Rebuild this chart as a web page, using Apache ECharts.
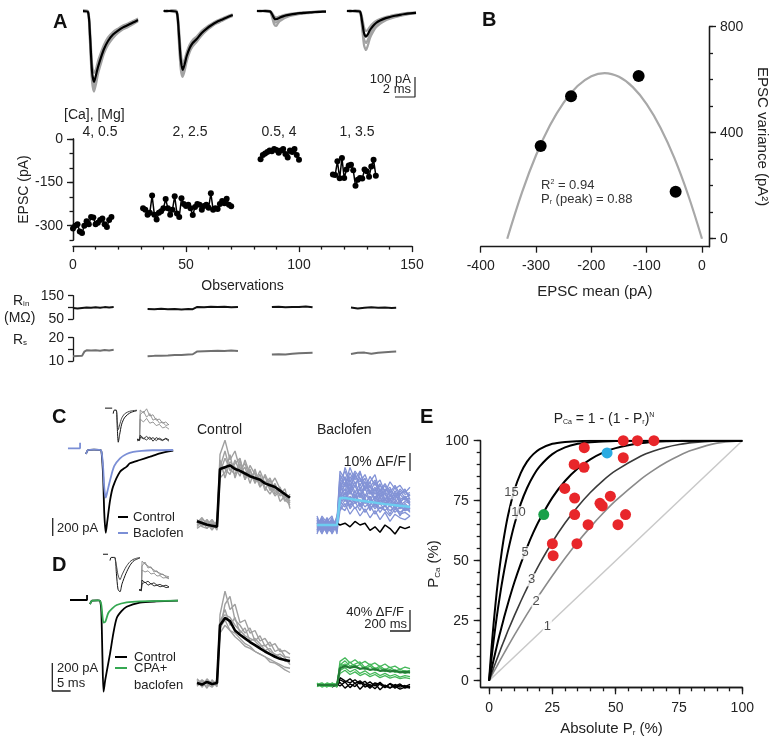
<!DOCTYPE html>
<html><head><meta charset="utf-8">
<script src="https://cdn.jsdelivr.net/npm/echarts@6/dist/echarts.min.js"></script>
<style>html,body{margin:0;padding:0;background:#fff}#c{width:779px;height:745px}</style>
</head><body><div id="c"></div>
<script>
// ---------------- DATA ----------------
// Panel A: averaged EPSC traces (pA) vs time (ms, onset = 0)
const tA = [-1.3,-1.0,-0.5,0,0.2,0.4,0.6,0.8,1.0,1.3,1.6,2.0,2.5,3.0,3.5,4.0,4.5,5.0,5.6];
const tr1Mean = [null,null,0,-5,-120,-300,-355,-320,-280,-232,-190,-150,-118,-98,-82,-70,-58,-45,null];
const tr1Lo   = [null,null,-5,-10,-160,-350,-403,-365,-315,-262,-212,-170,-135,-110,-92,-80,-66,-52,null];
const tr1Mid  = [null,null,0,-3,-140,-330,-380,-342,-298,-247,-200,-160,-126,-104,-88,-75,-62,-48,null];
const tr1Hi   = [null,null,5,0,-90,-260,-310,-290,-250,-207,-168,-132,-105,-88,-73,-62,-50,-38,null];
const tr2Mean = [0,0,0,-5,-100,-240,-295,-265,-225,-185,-160,-140,-110,-88,-70,-55,-44,-32,-20];
const tr2Lo   = [-4,3,-4,-10,-140,-290,-330,-298,-252,-205,-177,-154,-122,-97,-78,-62,-50,-37,-25];
const tr2Mid  = [2,-2,2,-6,-120,-265,-312,-280,-238,-195,-168,-147,-116,-93,-74,-58,-47,-35,-22];
const tr2Hi   = [4,-3,4,0,-70,-200,-265,-240,-205,-168,-145,-127,-99,-79,-63,-49,-38,-27,-16];
const tr3Mean = [0,0,0,-2,-15,-35,-42,-38,-33,-27,-22,-18,-14,-11,-9,-7,-5,-4,-3];
const tr3Lo   = [-3,2,-3,-5,-30,-65,-75,-62,-50,-40,-32,-25,-19,-15,-12,-9,-7,-5,-4];
const tr3Mid  = [1,-1,1,-3,-22,-50,-58,-50,-41,-33,-27,-21,-17,-13,-10,-8,-6,-4,-3];
const tr3Hi   = [3,-2,3,0,-8,-25,-32,-30,-27,-22,-18,-14,-11,-8,-6,-5,-3,-2,-1];
const tr4Mean = [0,0,0,-3,-50,-110,-128,-115,-95,-75,-60,-48,-37,-30,-24,-19,-15,-12,-9];
const tr4Lo   = [-3,3,-4,-8,-80,-170,-195,-170,-135,-105,-82,-64,-49,-39,-31,-25,-20,-15,-11];
const tr4Mid  = [1,-2,1,-5,-65,-140,-160,-142,-115,-90,-71,-56,-43,-34,-27,-22,-17,-13,-10];
const tr4Hi   = [3,-3,3,0,-30,-80,-100,-92,-78,-62,-50,-40,-31,-25,-19,-15,-11,-9,-6];

// Panel A: EPSC amplitude per observation
const condLabels = ['4, 0.5','2, 2.5','0.5, 4','1, 3.5'];
const obsStart = [0,31,83,115];
const epsc1 = [-310,-300,-295,-320,-325,-300,-285,-295,-270,-272,-295,-290,-280,-275,-295,-305,-280,-270];
const epsc2 = [-240,-245,-262,-255,-196,-262,-279,-255,-250,-240,-208,-240,-262,-245,-198,-258,-270,-205,-225,-232,-228,-240,-263,-235,-225,-228,-245,-232,-228,-238,-188,-245,-240,-242,-225,-215,-222,-207,-228,-233];
const epsc3 = [-70,-55,-50,-45,-40,-42,-35,-38,-48,-40,-35,-52,-64,-40,-45,-35,-55,-72];
const epsc4 = [-123,-125,-77,-136,-66,-135,-106,-92,-89,-108,-162,-141,-135,-137,-106,-112,-131,-95,-72,-127];
const aYLabels = [0,-150,-300];

// Rin / Rs
const rX1 = [0,2,4,5,6,8,10,12,14,16,18];
const rin1 = [97,95,97,98,99,98,100,98,101,99,101];
const rs1  = [12.0,12.1,12.2,14.0,14.6,14.5,14.6,14.4,14.7,14.5,14.8];
const rX2 = [33,36,39,42,45,48,51,53,55,58,61,64,67,70,73];
const rin2 = [93,92,94,92,93,91,93,92,102,100,103,101,103,100,102];
const rs2  = [12.0,12.2,12.3,12.4,12.6,12.6,12.8,12.9,14.1,14.2,14.3,14.4,14.3,14.5,14.3];
const rX3 = [88,91,94,97,100,103,106];
const rin3 = [101,103,100,102,101,104,100];
const rs3  = [12.8,12.9,12.8,13.1,13.3,13.4,13.5];
const rX4 = [123,126,129,132,135,138,141,143];
const rin4 = [99,95,98,100,98,99,97,98];
const rs4  = [13.0,13.5,13.6,13.1,13.5,13.8,14.0,14.1];

// Panel B: variance-mean
const bMean = [-291.6,-236.7,-114.5,-47.6];
const bVar  = [350,538,614,177];
const bFitX = [-352,-325,-300,-275,-250,-225,-200,-176,-150,-125,-100,-75,-50,-25,0];
const bFitY = [0,177,315,427,514,576,613,625,611,572,508,419,305,165,0];
const bXTicks = [-400,-300,-200,-100,0];
const bYTicksMinor = [0,100,200,300,400,500,600,700,800];
const bYTicks = [0,400,800];

// Panels C, D: EPSCs (time ms, current pA)
const cArtX = [4.9,8.2,8.2], cArtY = [19,19,81];
const cCtrlT = [9.8,10.4,12,13.8,14.1,14.5,14.8,15.2,15.6,16.4,17.2,19.1,20.9,21.8,24.5,27.3,30,33.6];
const cCtrlI = [-44,0,5,0,-40,-300,-700,-920,-800,-555,-407,-241,-185,-148,-111,-74,-37,-7];
const cBacT  = [9.8,10.4,12,13.8,14.1,14.5,14.8,15.2,15.6,16.4,17.5,19.1,20.9,22.7,25,28,33.6];
const cBacI  = [-44,0,5,0,-30,-200,-420,-530,-470,-333,-180,-92,-44,-22,-10,-3,0];
const dArtX = [5.45,10.1,10.1], dArtY = [5,5,40];
const dCtrlT = [10.9,11.5,13,13.6,14.0,14.3,14.6,15.1,16.4,17.3,18.2,19.5,20.9,24.5,29,34.9];
const dCtrlI = [-24,0,2,0,-80,-400,-650,-560,-374,-230,-124,-75,-43,-14,-5,0];
const dCpaT  = [10.9,11.5,13,13.6,14.0,14.3,14.6,15.1,15.9,17.0,18.2,20.9,24.5,34.9];
const dCpaI  = [-24,0,2,0,-30,-110,-157,-150,-88,-55,-31,-12,-5,0];

// Insets
const cInT1 = [2.7,3.0,3.6,3.9,4.2,4.6,5.2,6,7,8,9.7], cInI1 = [-100,0,0,-500,-920,-700,-400,-220,-120,-60,-10];
const cInT2 = [3.0,3.6,3.9,4.2,4.6,5.2,6,7,8,9.7],     cInI2 = [0,0,-300,-560,-420,-230,-110,-50,-20,0];
const dInT1 = [2.0,2.3,3.2,3.6,4.0,4.5,5.0,6,7,8,9.5],  dInI1 = [-60,0,0,-300,-600,-650,-500,-300,-150,-60,-10];
const dInT2 = [3.2,3.6,4.0,4.5,5.0,6,7,8,9.5],          dInI2 = [0,-150,-330,-420,-330,-180,-80,-30,0];
const tIn = [0,80,100,200,300,400,500,600,700,800,900,1000];
const cInGray = [[0,2,50,45,52,40,42,33,35,28,30,25],[2,0,42,48,38,44,33,36,28,30,24,26],[-2,1,35,30,36,28,30,24,26,20,22,18]];
const cInBlack = [[0,-1,5,2,6,1,4,-1,3,0,2,-2],[1,0,8,3,0,5,-2,4,1,-1,3,0]];
const dInGray = [[0,3,72,65,60,55,50,45,42,38,35,33],[2,-2,60,70,55,58,45,48,38,40,32,30],[-1,2,50,45,48,40,42,35,36,30,31,28]];
const dInBlack = [[0,-2,25,18,22,15,18,12,14,10,12,8],[1,0,15,20,12,16,10,12,8,10,6,7]];

// Calcium transients (time ms, dF/F %)
const tCa = [0,50,100,150,200,230,280,330,380,430,480,530,580,630,680,730,780,830,880,930];
const cCtrlMean = [1,0,-1,-1.5,-2,30,31,32,30,29,27.5,26,25,24,22,21,20,18,16,14];
const cCtrlTr = [
 [2,-2,1,-3,-1,38,46,35,40,30,33,25,28,22,26,18,22,15,17,12],
 [-2,1,-3,0,-4,25,28,38,25,33,24,30,22,27,18,24,16,20,13,10],
 [0,3,-1,2,-2,33,30,27,35,28,31,22,30,20,23,20,15,18,12,16],
 [-3,-1,2,-2,1,28,36,30,27,35,26,29,24,25,20,16,21,12,15,11],
 [1,-2,-3,1,-3,35,25,34,31,26,35,27,23,29,22,25,18,16,19,8],
 [-1,2,0,-4,0,31,40,29,33,36,24,32,27,20,27,21,25,19,14,15]];
const cBacMean = [0,0,0,0,0,15,15,14.5,14,13.6,13.2,12.8,12.4,12,11.6,11.3,11,10.7,10.4,10];
const cBacTr = [
 [3,-2,4,-1,2,28,22,32,25,30,20,27,22,25,18,24,20,22,18,21],
 [-3,2,-4,1,-2,20,27,18,24,16,22,19,15,20,17,13,19,14,16,12],
 [1,-4,2,-3,5,12,18,10,15,20,12,16,10,14,11,15,9,12,8,10],
 [-5,3,-1,4,-3,22,15,20,12,18,14,11,16,12,15,10,13,9,12,9],
 [2,0,-3,2,-1,10,8,14,9,12,7,11,6,10,8,5,9,6,7,5],
 [-2,5,1,-2,3,30,25,20,28,22,26,18,24,16,20,17,14,19,15,17],
 [4,-3,3,-5,0,16,20,13,19,11,17,14,12,16,10,14,12,10,11,9],
 [-1,1,-5,3,-4,8,12,6,10,5,9,4,8,3,7,2,6,4,3,5],
 [0,-5,2,0,1,18,32,24,30,26,20,24,28,18,22,16,21,15,14,13],
 [2,3,-2,-4,2,24,19,27,21,29,23,21,19,23,14,20,16,17,20,14],
 [1,-3,-2,2,-1,26,21,29,23,26,19,24,17,22,19,21,15,20,17,18],
 [-4,0,3,-1,4,14,24,17,22,15,21,13,20,12,18,11,17,13,15,11],
 [3,1,-4,0,-2,19,14,23,16,21,15,19,13,18,12,16,14,11,13,12],
 [0,4,-1,-3,1,11,16,9,13,8,14,9,12,7,11,8,10,7,9,8],
 [-2,-1,2,5,-5,25,30,22,27,24,28,21,25,19,23,18,22,17,19,16],
 [5,-2,0,-4,2,17,13,19,15,17,12,16,11,15,12,13,10,14,9,11],
 [-3,4,-2,1,-1,21,26,19,29,20,24,17,21,15,19,14,18,12,16,13],
 [1,-1,4,-2,0,13,10,16,12,14,10,13,9,12,8,11,7,10,8,9],
 [2,-4,-1,3,-3,23,17,25,18,23,16,22,14,20,13,19,12,17,14,15],
 [-1,2,-3,-2,4,9,14,11,17,10,15,8,13,9,11,6,12,5,10,7]];
const cBacBlack = [null,null,null,null,1,0,1,-1,2,0,1,-3,-1,-4,0,-2,-5,-1,-2,-1];
const dCtrlMean = [0,-3,2,-2,0,110,124,118,100,92,85,78,72,66,60,55,50,46,44,42];
const dCtrlTr = [
 [5,-8,4,-5,2,130,175,140,150,115,120,95,100,80,85,70,75,60,62,55],
 [-6,3,-10,6,-4,100,150,165,120,110,95,105,80,90,70,78,60,65,50,48],
 [2,-5,8,-3,5,95,110,100,95,85,75,70,60,55,50,45,40,35,30,28],
 [-3,6,-2,-8,3,120,130,125,110,100,90,85,80,70,72,60,55,50,42,40],
 [8,-2,-6,4,-7,105,120,100,88,80,70,66,60,55,50,40,38,32,25,20],
 [-1,4,1,-4,-2,115,140,110,125,95,105,80,85,75,62,66,52,55,48,35]];
const dCpaMean = [0,0,0,0,0,32,36,33,35,31,32,29,30,27,28,26,27,24,25,24];
const dCpaTr = [
 [2,-3,4,0,-2,45,52,42,48,40,45,38,42,35,40,33,36,30,34,31],
 [-3,2,-4,3,1,35,40,32,38,30,35,28,33,27,31,25,29,24,27,23],
 [1,4,-2,-3,3,28,33,25,30,22,27,20,24,18,22,17,20,15,18,16],
 [-2,-1,3,2,-4,40,36,44,34,39,30,36,28,33,26,30,24,27,22,25],
 [4,-4,0,-1,2,22,28,20,25,18,22,16,20,14,18,13,16,12,14,12],
 [0,1,-3,4,-1,38,46,36,40,44,33,40,31,36,29,34,27,30,26,28]];
const dCpaBlack = [
 [null,null,null,0,-3,10,5,12,3,8,0,6,-2,5,-4,2,-6,0,-3,1],
 [null,null,null,-4,2,-2,6,-5,4,-8,2,-6,3,-9,0,-5,-2,-8,-4,-6],
 [null,null,null,3,-1,14,8,4,10,2,7,-3,4,1,-5,3,-2,2,-6,-2],
 [null,null,null,-2,0,5,-6,2,-3,6,-4,1,-7,3,-2,-6,1,-4,-1,-5]];

// Panel E (curves)
const ePx = [0,0.5,1,1.5,2,3,4,5,6,7.5,10,12.5,15,17.5,20,25,30,35,40,45,50,60,65,70,75,80,90,100];
const eN15 = [0,7.2,14.0,20.3,26.1,36.7,45.8,53.7,60.5,68.9,79.4,86.5,91.3,94.4,96.5,98.7,99.5,99.8,100,100,100,100,100,100,100,100,100,100];
const eN10 = [0,4.9,9.6,14.0,18.3,26.3,33.5,40.1,46.1,54.1,65.1,73.7,80.3,85.4,89.3,94.4,97.2,98.7,99.4,99.7,99.9,100,100,100,100,100,100,100];
const eN5  = [0,2.5,4.9,7.3,9.6,14.1,18.5,22.6,26.6,32.3,41.0,48.7,55.6,61.8,67.2,76.3,83.2,88.4,92.2,95.0,96.9,99.0,99.5,99.8,99.9,100,100,100];
const eN3  = [0,1.5,3.0,4.4,5.9,8.7,11.5,14.3,16.9,20.9,27.1,33.0,38.6,43.8,48.8,57.8,65.7,72.5,78.4,83.4,87.5,93.6,95.7,97.3,98.4,99.2,99.9,100];
const eN2  = [0,1.0,2.0,3.0,4.0,5.9,7.8,9.75,11.6,14.4,19,23.4,27.75,31.9,36,43.75,51,57.75,64,69.75,75,84,87.75,91,93.75,96,99,100];
const eN1  = [0,0.5,1,1.5,2,3,4,5,6,7.5,10,12.5,15,17.5,20,25,30,35,40,45,50,60,65,70,75,80,90,100];
const eCurveLabels = [[8.9,78.3,'15'],[11.6,70,'10'],[14.2,53.3,'5'],[16.8,42,'3'],[18.6,33.2,'2'],[23,22.8,'1']];
const eRedPr  = [53,58.6,65.1,37.6,33.6,37.5,53,29.9,33.8,47.9,43.8,44.7,33.8,53.9,39.1,50.9,25,34.7,25.3];
const eRedPca = [100,100,100,97.1,90.1,88.9,92.9,80.1,76.1,76.9,73.9,72.8,69.2,69.2,65,65,57.1,57.1,52.1];
const eBlue = [[46.6,94.9]];
const eGreen = [[21.6,69.2]];
const eTicksMinor = [0,5,10,15,20,25,30,35,40,45,50,55,60,65,70,75,80,85,90,95,100];
const eTicks = [0,25,50,75,100];

// ---------------- BUILD ----------------
const FONT = "'Liberation Sans', Arial, Helvetica, sans-serif";
const INK = '#1a1a1a';
const grids = [], xAxis = [], yAxis = [], series = [], graphic = [];
function seq(a, n){ const o=[]; for(let i=0;i<n;i++) o.push(a+i); return o; }
function zip(t, v){ const o=[]; for(let i=0;i<t.length;i++){ if(v[i]!=null) o.push([t[i], v[i]]); } return o; }
function grid(l,t,w,h){ grids.push({left:l, top:t, width:w, height:h, containLabel:false, outerBoundsMode:'none'}); return grids.length-1; }
function hidden(gi, xr, yr){
  xAxis.push({type:'value', gridIndex:gi, min:xr[0], max:xr[1], show:false, splitLine:{show:false}});
  yAxis.push({type:'value', gridIndex:gi, min:yr[0], max:yr[1], show:false, splitLine:{show:false}});
  return {x:xAxis.length-1, y:yAxis.length-1};
}
function addLine(ax, data, color, width, extra){
  series.push(Object.assign({type:'line', xAxisIndex:ax.x, yAxisIndex:ax.y, data:data, symbol:'none', showSymbol:false,
    clip:false, silent:true, animation:false, lineStyle:{color:color, width:width}, emphasis:{disabled:true}}, extra||{}));
}
const axLine = {show:true, onZero:false, lineStyle:{color:INK, width:1.3}};
const lab = {color:'#222', fontSize:14, fontFamily:FONT};
function tick(len, vals){ const t={show:true, length:len, lineStyle:{color:INK, width:1.3}}; if(vals) t.customValues=vals; return t; }
function txt(x, y, text, o){
  o = o||{};
  const st = {text:text, fill:o.color||'#222', font:(o.weight||'normal')+' '+(o.size||14)+'px '+FONT,
    align:o.align||'left', verticalAlign:o.valign||'middle', textAlign:o.align||'left', textVerticalAlign:o.valign||'middle'};
  if(o.rich) st.rich = o.rich;
  graphic.push({type:'text', x:x, y:y, silent:true, z:100, style:st});
}
function seg(x1,y1,x2,y2,color,w){ graphic.push({type:'line', silent:true, z:100, shape:{x1,y1,x2,y2}, style:{stroke:color, lineWidth:w||2}}); }

// ---- Panel A traces
const trLefts = [73, 161.7, 255, 345];
const trSets = [[tr1Lo,tr1Mid,tr1Hi,tr1Mean],[tr2Lo,tr2Mid,tr2Hi,tr2Mean],[tr3Lo,tr3Mid,tr3Hi,tr3Mean],[tr4Lo,tr4Mid,tr4Hi,tr4Mean]];
let lastTr;
trSets.forEach((set, i) => {
  const ax = hidden(grid(trLefts[i], 9, 80, 92), [-1.5, 6.5], [-450, 10]);
  for(let k=0;k<3;k++) addLine(ax, zip(tA, set[k]), '#a3a3a3', 2.2, {smooth:0.25});
  addLine(ax, zip(tA, set[3]), '#000', 2.2, {smooth:0.25, z:3});
  lastTr = ax;
});
addLine(lastTr, [[3.5,-430],[5.5,-430],[5.5,-330]], '#222', 1.2);

// ---- Panel A scatter
const gS = grid(73, 139, 339, 101.1);
const xS = xAxis.length;
xAxis.push({type:'value', gridIndex:gS, position:'bottom', min:0, max:150, interval:50, offset:6,
  axisLine:axLine, axisTick:tick(6), minorTick:{show:true, splitNumber:5, length:3.5, lineStyle:{color:INK, width:1.3}},
  axisLabel:Object.assign({margin:12}, lab), splitLine:{show:false}, minorSplitLine:{show:false},
  name:'Observations', nameLocation:'middle', nameGap:33, nameTextStyle:lab});
const yS = yAxis.length;
yAxis.push({type:'value', gridIndex:gS, position:'left', min:-350, max:0, interval:50,
  axisLine:axLine, axisTick:tick(3.5), axisLabel:{show:false}, splitLine:{show:false}});
yAxis.push({type:'value', gridIndex:gS, position:'left', min:-350, max:0,
  axisLine:axLine, axisTick:tick(6, aYLabels), axisLabel:Object.assign({margin:10, customValues:aYLabels}, lab), splitLine:{show:false},
  name:'EPSC (pA)', nameLocation:'middle', nameGap:40, nameRotate:90, nameTextStyle:lab});
[epsc1, epsc2, epsc3, epsc4].forEach((arr, i) => {
  series.push({type:'line', xAxisIndex:xS, yAxisIndex:yS, data:zip(seq(obsStart[i], arr.length), arr),
    symbol:'circle', symbolSize:6, showSymbol:true, itemStyle:{color:'#000', opacity:1}, lineStyle:{color:'#000', width:1.5},
    silent:true, animation:false, emphasis:{disabled:true}});
});

// ---- Rin / Rs
const gR = grid(73, 295.7, 339, 23.3);
const xR = xAxis.length; xAxis.push({type:'value', gridIndex:gR, min:0, max:150, show:false, splitLine:{show:false}});
const yR = yAxis.length; yAxis.push({type:'value', gridIndex:gR, position:'left', min:50, max:150, interval:50,
  axisLine:axLine, axisTick:tick(5), splitLine:{show:false},
  axisLabel:Object.assign({margin:9, formatter:v => v===100 ? '' : String(v)}, lab)});
const gRs = grid(73, 337.7, 339, 23.3);
const xRs = xAxis.length; xAxis.push({type:'value', gridIndex:gRs, min:0, max:150, show:false, splitLine:{show:false}});
const yRs = yAxis.length; yAxis.push({type:'value', gridIndex:gRs, position:'left', min:10, max:20, interval:5,
  axisLine:axLine, axisTick:tick(5), splitLine:{show:false},
  axisLabel:Object.assign({margin:9, formatter:v => v===15 ? '' : String(v)}, lab)});
[[rX1,rin1,rs1],[rX2,rin2,rs2],[rX3,rin3,rs3],[rX4,rin4,rs4]].forEach(g => {
  addLine({x:xR, y:yR}, zip(g[0], g[1]), '#111', 2);
  addLine({x:xRs, y:yRs}, zip(g[0], g[2]), '#707070', 2);
});

// ---- Panel B
const gB = grid(480.7, 26.7, 228.3, 220);
const xB = xAxis.length;
xAxis.push({type:'value', gridIndex:gB, position:'bottom', min:-400, max:12.7, axisLine:axLine, axisTick:tick(6, bXTicks),
  axisLabel:Object.assign({margin:12, customValues:bXTicks}, lab), splitLine:{show:false},
  name:'EPSC mean (pA)', nameLocation:'middle', nameGap:38, nameTextStyle:Object.assign({}, lab, {fontSize:15})});
const yB = yAxis.length;
yAxis.push({type:'value', gridIndex:gB, position:'right', min:-30, max:800, axisLine:axLine, axisTick:tick(4, bYTicksMinor),
  axisLabel:{show:false}, splitLine:{show:false}});
yAxis.push({type:'value', gridIndex:gB, position:'right', min:-30, max:800, axisLine:axLine, axisTick:tick(7, bYTicks),
  axisLabel:Object.assign({margin:11, customValues:bYTicks}, lab), splitLine:{show:false},
  name:'EPSC variance (pA²)', nameLocation:'middle', nameGap:46, nameRotate:-90, nameTextStyle:Object.assign({}, lab, {fontSize:15})});
addLine({x:xB, y:yB}, zip(bFitX, bFitY), '#a8a8a8', 2.2, {smooth:0.4});
series.push({type:'scatter', xAxisIndex:xB, yAxisIndex:yB, data:zip(bMean, bVar), symbolSize:12,
  itemStyle:{color:'#000', opacity:1}, silent:true, animation:false, z:5});

// ---- Panel C EPSC
const axC = hidden(grid(50, 440, 132, 100), [0, 36], [-1000, 111]);
addLine(axC, zip(cCtrlT, cCtrlI), '#000', 1.8, {smooth:0.25});
addLine(axC, zip(cArtX, cArtY), '#7b8fd6', 1.8);
addLine(axC, zip(cBacT, cBacI), '#7b8fd6', 1.8, {smooth:0.25, z:3});
addLine(axC, [[0.74,-756],[0.74,-956]], '#222', 1.3);
// C inset
const axCi = hidden(grid(104, 405, 34, 40), [0, 10], [-1000, 150]);
addLine(axCi, [[0.3,60],[2.4,60]], '#111', 1);
addLine(axCi, zip(cInT1, cInI1), '#111', 1, {smooth:0.25});
addLine(axCi, zip(cInT2, cInI2), '#444', 1, {smooth:0.25});
const axCc = hidden(grid(137, 404, 32, 40), [0, 1000], [-6.7, 60]);
cInGray.forEach(a => addLine(axCc, zip(tIn, a), '#8a8a8a', 0.9));
cInBlack.forEach(a => addLine(axCc, zip(tIn, a), '#222', 0.9));

// ---- Panel C calcium
const axCC = hidden(grid(197, 433, 100, 108), [0, 1000], [-10, 50]);
cCtrlTr.forEach(a => addLine(axCC, zip(tCa, a), '#a0a0a0', 1.4));
addLine(axCC, zip(tCa, cCtrlMean), '#000', 2.6, {z:3});
const axCB = hidden(grid(317, 435, 100, 108), [0, 1000], [-10, 50]);
cBacTr.forEach(a => addLine(axCB, zip(tCa, a), '#8393d6', 1.3));
addLine(axCB, zip(tCa, cBacBlack), '#000', 1.5, {z:3});
addLine(axCB, zip(tCa, cBacMean), '#6dcdf0', 2.4, {z:4});
addLine(axCB, [[930,30],[930,40]], '#222', 1.3);

// ---- Panel D EPSC
const axD = hidden(grid(50, 590.2, 132, 108.5), [0, 36], [-700, 75]);
addLine(axD, zip(dArtX, dArtY), '#000', 1.8);
addLine(axD, zip(dCtrlT, dCtrlI), '#000', 1.8, {smooth:0.25});
addLine(axD, zip(dCpaT, dCpaI), '#35a852', 1.8, {smooth:0.25, z:3});
addLine(axD, [[0.63,-445],[0.63,-645],[5.63,-645]], '#222', 1.3);
// D inset
const axDi = hidden(grid(102, 550, 40, 45), [0, 10], [-710, 140]);
addLine(axDi, [[0.25,60],[1.5,60]], '#111', 1);
addLine(axDi, zip(dInT1, dInI1), '#111', 1, {smooth:0.25});
addLine(axDi, zip(dInT2, dInI2), '#444', 1, {smooth:0.25});
const axDc = hidden(grid(139, 555, 30, 40), [0, 1000], [-12.5, 87.5]);
dInGray.forEach(a => addLine(axDc, zip(tIn, a), '#8a8a8a', 0.9));
dInBlack.forEach(a => addLine(axDc, zip(tIn, a), '#222', 0.9));

// ---- Panel D calcium
const axDC = hidden(grid(197, 588.5, 100, 105), [0, 1000], [-20, 180]);
dCtrlTr.forEach(a => addLine(axDC, zip(tCa, a), '#a0a0a0', 1.4));
addLine(axDC, zip(tCa, dCtrlMean), '#000', 2.6, {z:3});
const axDP = hidden(grid(317, 590.5, 100, 105), [0, 1000], [-20, 180]);
dCpaBlack.forEach(a => addLine(axDP, zip(tCa, a), '#000', 1.4));
dCpaTr.forEach(a => addLine(axDP, zip(tCa, a), '#45b85a', 1.3, {z:3}));
addLine(axDP, zip(tCa, dCpaMean), '#237a35', 2.2, {z:4});
addLine(axDP, [[730,102.9],[930,102.9],[930,142.9]], '#222', 1.3);

// ---- Panel E
const gE = grid(480.7, 440.7, 261.6, 246.6);
const xE = xAxis.length;
const subName = {n:{fontSize:15, fontFamily:FONT, color:'#222'}, s:{fontSize:8, fontFamily:FONT, color:'#222', verticalAlign:'bottom', lineHeight:9}};
xAxis.push({type:'value', gridIndex:gE, position:'bottom', min:-3.3, max:100, axisLine:axLine, axisTick:tick(4, eTicksMinor),
  axisLabel:{show:false}, splitLine:{show:false}});
xAxis.push({type:'value', gridIndex:gE, position:'bottom', min:-3.3, max:100, axisLine:axLine, axisTick:tick(7, eTicks),
  axisLabel:Object.assign({margin:14, customValues:eTicks}, lab), splitLine:{show:false},
  name:'{n|Absolute P}{s|r}{n| (%)}', nameLocation:'middle', nameGap:34,
  nameTextStyle:{fontSize:15, fontFamily:FONT, color:'#222', rich:subName}});
const yE = yAxis.length;
yAxis.push({type:'value', gridIndex:gE, position:'left', min:-2.75, max:100, axisLine:axLine, axisTick:tick(4, eTicksMinor),
  axisLabel:{show:false}, splitLine:{show:false}});
yAxis.push({type:'value', gridIndex:gE, position:'left', min:-2.75, max:100, axisLine:axLine, axisTick:tick(7, eTicks),
  axisLabel:Object.assign({margin:12, customValues:eTicks}, lab), splitLine:{show:false},
  name:'{n|P}{s|Ca}{n| (%)}', nameLocation:'middle', nameGap:36, nameRotate:90,
  nameTextStyle:{fontSize:15, fontFamily:FONT, color:'#222', rich:subName}});
const axE = {x:xE, y:yE};
const eCurves = [[eN1,'#c9c9c9',1.5],[eN2,'#8a8a8a',1.6],[eN3,'#3a3a3a',1.6],[eN5,'#000',2],[eN10,'#000',2],[eN15,'#000',2]];
eCurves.forEach(c => addLine(axE, zip(ePx, c[0]), c[1], c[2], {smooth:0.2, clip:true}));
series.push({type:'scatter', xAxisIndex:xE, yAxisIndex:yE, data:eCurveLabels, symbolSize:1, itemStyle:{color:'rgba(0,0,0,0)'},
  silent:true, animation:false, z:4,
  label:{show:true, position:'inside', formatter:p => p.data[2], color:'#222', fontSize:13, fontFamily:FONT, backgroundColor:'#fff', padding:[0,1]}});
const dot = c => ({color:c, opacity:1});
series.push({type:'scatter', xAxisIndex:xE, yAxisIndex:yE, data:zip(eRedPr, eRedPca), symbolSize:11, itemStyle:dot('#e8262a'), silent:true, animation:false, z:6});
series.push({type:'scatter', xAxisIndex:xE, yAxisIndex:yE, data:eBlue, symbolSize:11, itemStyle:dot('#2aabe2'), silent:true, animation:false, z:6});
series.push({type:'scatter', xAxisIndex:xE, yAxisIndex:yE, data:eGreen, symbolSize:11, itemStyle:dot('#1aa04a'), silent:true, animation:false, z:6});

// ---------------- TEXT ----------------
const big = {size:20, weight:'bold', valign:'top', color:'#111'};
txt(53, 12, 'A', big); txt(482, 10, 'B', big); txt(52, 407, 'C', big); txt(52, 555, 'D', big); txt(420, 407, 'E', big);
txt(411, 79, '100 pA', {size:13, align:'right'});
txt(411, 89, '2 ms', {size:13, align:'right'});
txt(64, 115, '[Ca], [Mg]', {size:14});
[100, 190, 279, 357].forEach((x, i) => txt(x, 132, condLabels[i], {size:14, align:'center'}));
const subRich = {n:{fontSize:14, fontFamily:FONT, fill:'#222'}, s:{fontSize:8, fontFamily:FONT, fill:'#222', verticalAlign:'bottom', lineHeight:9}};
txt(13, 301, '{n|R}{s|in}', {rich:subRich});
txt(4, 318, '(MΩ)', {size:14});
txt(13, 340, '{n|R}{s|s}', {rich:subRich});
// B texts
txt(541, 185, '{n|R}{p|2}{n| = 0.94}', {rich:{n:{fontSize:13, fontFamily:FONT, fill:'#333'}, p:{fontSize:7, fontFamily:FONT, fill:'#333', verticalAlign:'top', lineHeight:8}}});
txt(541, 199, '{n|P}{s|r}{n| (peak) = 0.88}', {rich:{n:{fontSize:13, fontFamily:FONT, fill:'#333'}, s:{fontSize:7, fontFamily:FONT, fill:'#333', verticalAlign:'bottom', lineHeight:8}}});
// C texts
txt(197, 430, 'Control', {size:14}); txt(317, 430, 'Baclofen', {size:14});
txt(406, 462, '10% ΔF/F', {size:14, align:'right'});
txt(57, 528, '200 pA', {size:13});
seg(118, 517, 128, 517, '#000', 2); txt(133, 517, 'Control', {size:13});
seg(118, 533, 128, 533, '#7b8fd6', 2); txt(133, 533, 'Baclofen', {size:13});
// D texts
txt(57, 668, '200 pA', {size:13}); txt(57, 683, '5 ms', {size:13});
seg(115, 657, 127, 657, '#000', 2); txt(134, 657, 'Control', {size:13});
seg(115, 668, 127, 668, '#35a852', 2); txt(134, 668, 'CPA+', {size:13});
txt(134, 685, 'baclofen', {size:13});
txt(404, 612, '40% ΔF/F', {size:13, align:'right'});
txt(407, 624, '200 ms', {size:13, align:'right'});
// E title
txt(604, 419, '{n|P}{s|Ca}{n| = 1 - (1 - P}{s|r}{n|)}{p|N}', {align:'center', rich:{
  n:{fontSize:14, fontFamily:FONT, fill:'#222'}, s:{fontSize:7, fontFamily:FONT, fill:'#222', verticalAlign:'bottom', lineHeight:8},
  p:{fontSize:7, fontFamily:FONT, fill:'#222', verticalAlign:'top', lineHeight:8}}});

const chart = echarts.init(document.getElementById('c'), null, {renderer:'canvas'});
chart.setOption({animation:false, backgroundColor:'#fff', grid:grids, xAxis:xAxis, yAxis:yAxis, series:series, graphic:graphic});
</script></body></html>
